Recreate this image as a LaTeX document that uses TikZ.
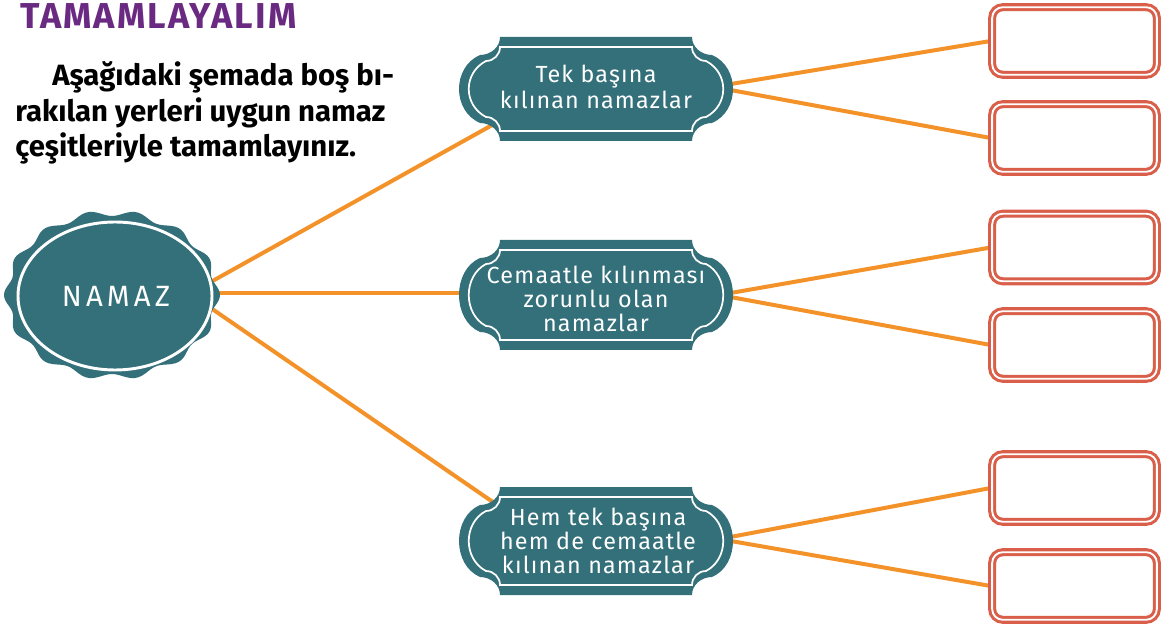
\documentclass[tikz,border=0pt]{standalone}
\usepackage{fontspec}
\setmainfont{Fira Sans}
\definecolor{tealc}{RGB}{51,112,122}
\definecolor{orng}{RGB}{244,146,42}
\definecolor{redb}{RGB}{217,95,74}
\definecolor{purp}{RGB}{106,42,130}
\pgfdeclarelayer{bg}
\pgfsetlayers{bg,main}
% cx, cy, b, t, n, d, c, k
\newcommand{\plaquepath}[8]{%
({(#1)-(#4)},{(#2)-(#3)}) -- ({(#1)+(#4)},{(#2)-(#3)})
.. controls ({(#1)+(#4)},{(#2)-(#3)+0.55*(#6)}) and ({(#1)+(#5)-0.55*((#5)-(#4))},{(#2)-(#3)+(#6)}) .. ({(#1)+(#5)},{(#2)-(#3)+(#6)})
.. controls ({(#1)+(#7)},{(#2)-(#8)}) and ({(#1)+(#7)},{(#2)+(#8)}) .. ({(#1)+(#5)},{(#2)+(#3)-(#6)})
.. controls ({(#1)+(#5)-0.55*((#5)-(#4))},{(#2)+(#3)-(#6)}) and ({(#1)+(#4)},{(#2)+(#3)-0.55*(#6)}) .. ({(#1)+(#4)},{(#2)+(#3)})
-- ({(#1)-(#4)},{(#2)+(#3)})
.. controls ({(#1)-(#4)},{(#2)+(#3)-0.55*(#6)}) and ({(#1)-(#5)+0.55*((#5)-(#4))},{(#2)+(#3)-(#6)}) .. ({(#1)-(#5)},{(#2)+(#3)-(#6)})
.. controls ({(#1)-(#7)},{(#2)+(#8)}) and ({(#1)-(#7)},{(#2)-(#8)}) .. ({(#1)-(#5)},{(#2)-(#3)+(#6)})
.. controls ({(#1)-(#5)+0.55*((#5)-(#4))},{(#2)-(#3)+(#6)}) and ({(#1)-(#4)},{(#2)-(#3)+0.55*(#6)}) .. ({(#1)-(#4)},{(#2)-(#3)}) -- cycle}
\newcommand{\myplaque}[3]{%
\fill[tealc] \plaquepath{#1}{#2}{#3}{96}{116}{18}{144}{#3-30};
\draw[white,line width=1.3pt] \plaquepath{#1}{#2}{#3-10}{96}{110}{14}{133}{#3-36};}
\begin{document}
\begin{tikzpicture}[x=0.75pt,y=-0.75pt,
  conn/.style={orng,line width=3pt},
  redbox/.style={draw=redb,line width=2.3pt,double=white,double distance=1.4pt,
    rounded corners=8pt,minimum width=123.5pt,minimum height=50.7pt,inner sep=0pt,fill=white},
  ptext/.style={text=white,align=center,font=\fontsize{17.5}{18}\selectfont\addfontfeature{LetterSpace=5}},
  para/.style={anchor=base west,font=\fontsize{22}{26}\selectfont\bfseries}]
\useasboundingbox (0,0) rectangle (1163,630);
% title and instructions
\node[anchor=base west,inner xsep=0pt,text=purp,font=\fontsize{27}{30}\selectfont\bfseries\addfontfeature{LetterSpace=6}] (title) at (20,29) {TAMAMLAYALIM};
\node[para,inner xsep=0pt] (l1) at (52,86) {Aşağıdaki şemada boş bı-};
\node[para,inner xsep=0pt] (l2) at (15,122) {rakılan yerleri uygun namaz};
\node[para,inner xsep=0pt] (l3) at (15,157) {çeşitleriyle tamamlayınız.};
% badge
\fill[tealc] plot[domain=0:360,samples=181] ({112+(105+3*cos(14*\x))*cos(\x)},{295+(82+3*cos(14*\x))*sin(\x)}) -- cycle;
\draw[white,line width=2.2pt] (115,296) ellipse [x radius=97,y radius=74];
\node[text=white,font=\fontsize{22}{24}\selectfont\addfontfeature{LetterSpace=14}] (namaz) at (116,296) {NAMAZ};
% plaques
\myplaque{596}{89}{52}
\myplaque{596}{295}{55}
\myplaque{596}{541}{54}
\node[ptext] (p1) at (596,87) {Tek başına\\[2pt]kılınan namazlar};
\node[ptext] (p2) at (596,299) {Cemaatle kılınması\\zorunlu olan\\namazlar};
\node[ptext] (p3) at (598,541) {Hem tek başına\\hem de cemaatle\\kılınan namazlar};
% answer boxes
\node[redbox] (bA) at (1074.5,41) {};
\node[redbox] (bB) at (1074.5,138) {};
\node[redbox] (bC) at (1074.5,247.5) {};
\node[redbox] (bD) at (1074.5,345) {};
\node[redbox] (bE) at (1074.5,488) {};
\node[redbox] (bF) at (1074.5,586) {};
% connector end points
\coordinate (n1) at (200,288);
\coordinate (n2) at (200,293);
\coordinate (n3) at (200,300.6);
\coordinate (q1) at (500,120.7);
\coordinate (q2) at (470,293);
\coordinate (q3) at (500,506.9);
\coordinate (r1) at (725,85);
\coordinate (r2) at (725,89);
\coordinate (r3) at (725,294);
\coordinate (r4) at (725,296);
\coordinate (r5) at (725,538);
\coordinate (r6) at (725,540);
\begin{pgfonlayer}{bg}
\draw[conn] (n1) -- (q1);
\draw[conn] (n2) -- (q2);
\draw[conn] (n3) -- (q3);
\draw[conn] (r1) -- (bA.west);
\draw[conn] (r2) -- (bB.west);
\draw[conn] (r3) -- (bC.west);
\draw[conn] (r4) -- (bD.west);
\draw[conn] (r5) -- (bE.west);
\draw[conn] (r6) -- (bF.west);
\end{pgfonlayer}
\end{tikzpicture}
\end{document}
